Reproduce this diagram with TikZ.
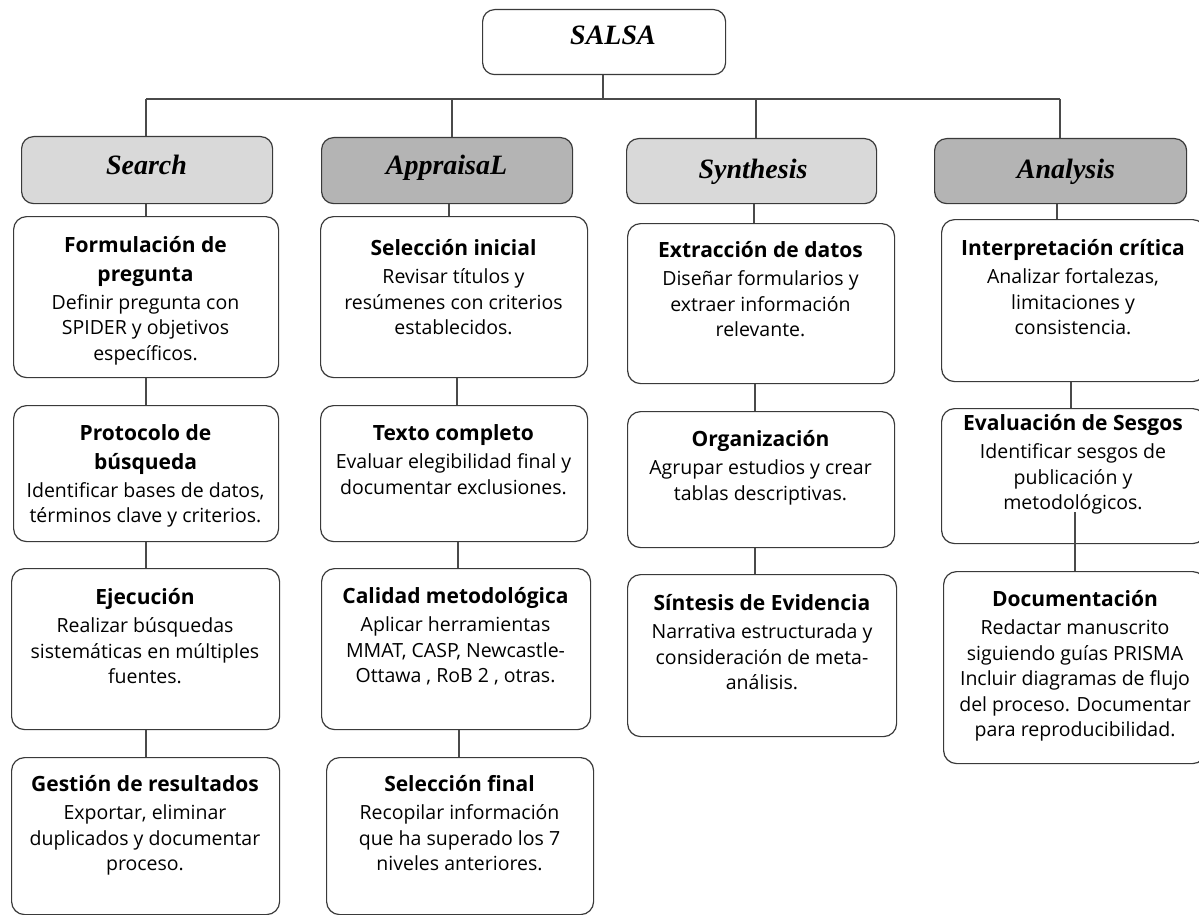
\documentclass[tikz,border=0pt]{standalone}
\usepackage{fontspec}
\setmainfont{Open Sans}
\newfontfamily\headfont{Liberation Serif}
\definecolor{linegray}{HTML}{4A4A4A}
\definecolor{bordergray}{HTML}{3A3A3A}
\definecolor{catlight}{HTML}{D9D9D9}
\definecolor{catdark}{HTML}{B4B4B4}
\newcommand\steptxt[2]{\begin{minipage}[t]{300pt}\centering{\fontsize{21}{28.5}\selectfont\bfseries #1\par}\vspace{2.5pt}{\fontsize{19.5}{25.5}\selectfont #2\par}\end{minipage}}
\tikzset{
  conn/.style={draw=linegray, line width=1.2pt},
  catbox/.style={draw=bordergray, line width=1.2pt, rounded corners=12pt, anchor=north west, inner sep=0pt},
  stepbox/.style={draw=bordergray, line width=1.2pt, rounded corners=13pt, fill=white, anchor=north west, inner sep=0pt},
  cattext/.style={font=\headfont\bfseries\itshape\fontsize{28}{30}\selectfont, anchor=base, inner sep=0pt},
  steptext/.style={anchor=base, inner sep=0pt},
}
\begin{document}
\begin{tikzpicture}[x=1pt,y=-1pt]
\useasboundingbox (0,0) rectangle (1199,915);
\fill[white] (0,0) rectangle (1199,915);
\clip (0,0) rectangle (1199,915);

% top box
\node[catbox, fill=white, minimum width=243pt, minimum height=65pt] (salsa) at (482,9) {};
\node[cattext] (salsat) at (613,45) {SALSA};

% category boxes
\node[catbox, fill=catlight, minimum width=251pt, minimum height=67pt] (search) at (21,136) {};
\node[catbox, fill=catdark, minimum width=251pt, minimum height=66pt] (appr) at (321,137) {};
\node[catbox, fill=catlight, minimum width=250pt, minimum height=65pt] (synth) at (626,138) {};
\node[catbox, fill=catdark, minimum width=252pt, minimum height=65pt] (anal) at (934,138) {};
\node[cattext] (searcht) at (146.5,175) {Search};
\node[cattext] (apprt) at (446.5,175) {AppraisaL};
\node[cattext] (syntht) at (753,178) {Synthesis};
\node[cattext] (analt) at (1066,178) {Analysis};

% column 1
\node[stepbox, minimum width=265pt, minimum height=161pt] (f1) at (13,216) {};
\node[stepbox, minimum width=265pt, minimum height=136pt] (f2) at (13,405) {};
\node[stepbox, minimum width=268pt, minimum height=161pt] (f3) at (11,568) {};
\node[stepbox, minimum width=268pt, minimum height=157pt] (f4) at (11,757) {};
\node[steptext] (f1t) at (145.5,252.5) {\steptxt{Formulación de\\pregunta}{Definir pregunta con\\SPIDER y objetivos\\específicos.}};
\node[steptext] (f2t) at (145.5,440.5) {\steptxt{Protocolo de\\búsqueda}{Identificar bases de datos,\\términos clave y criterios.}};
\node[steptext] (f3t) at (145,604.5) {\steptxt{Ejecución}{Realizar búsquedas\\sistemáticas en múltiples\\fuentes.}};
\node[steptext] (f4t) at (145,791.5) {\steptxt{Gestión de resultados}{Exportar, eliminar\\duplicados y documentar\\proceso.}};

% column 2
\node[stepbox, minimum width=267pt, minimum height=161pt] (a1) at (320,216) {};
\node[stepbox, minimum width=267pt, minimum height=136pt] (a2) at (320,405) {};
\node[stepbox, minimum width=269pt, minimum height=161pt] (a3) at (321,568) {};
\node[stepbox, minimum width=267pt, minimum height=157pt] (a4) at (326,757) {};
\node[steptext] (a1t) at (453.5,255.5) {\steptxt{Selección inicial}{Revisar títulos y\\resúmenes con criterios\\establecidos.}};
\node[steptext] (a2t) at (453.5,440.5) {\steptxt{Texto completo}{Evaluar elegibilidad final y\\documentar exclusiones.}};
\node[steptext] (a3t) at (455.5,603.5) {\steptxt{Calidad metodológica}{Aplicar herramientas\\MMAT, CASP, Newcastle-\\Ottawa , RoB 2 , otras.}};
\node[steptext] (a4t) at (459.5,791.5) {\steptxt{Selección final}{Recopilar información\\que ha superado los 7\\niveles anteriores.}};

% column 3
\node[stepbox, minimum width=267pt, minimum height=160pt] (s1) at (627,223) {};
\node[stepbox, minimum width=267pt, minimum height=136pt] (s2) at (627,411) {};
\node[stepbox, minimum width=269pt, minimum height=162pt] (s3) at (627,574) {};
\node[steptext] (s1t) at (760.5,257.5) {\steptxt{Extracción de datos}{Diseñar formularios y\\extraer información\\relevante.}};
\node[steptext] (s2t) at (760.5,446.5) {\steptxt{Organización}{Agrupar estudios y crear\\tablas descriptivas.}};
\node[steptext] (s3t) at (762,610.5) {\steptxt{Síntesis de Evidencia}{Narrativa estructurada y\\consideración de meta-\\análisis.}};

% column 4
\node[stepbox, minimum width=264pt, minimum height=162pt] (n1) at (941,219) {};
\node[stepbox, minimum width=264pt, minimum height=135pt] (n2) at (941,408) {};
\node[stepbox, minimum width=262pt, minimum height=192pt] (n3) at (943,571) {};
\node[steptext] (n1t) at (1073,255.5) {\steptxt{Interpretación crítica}{Analizar fortalezas,\\limitaciones y\\consistencia.}};
\node[steptext] (n2t) at (1073,430.5) {\steptxt{Evaluación de Sesgos}{Identificar sesgos de\\publicación y\\metodológicos.}};
\node[steptext] (n3t) at (1075,606.5) {\steptxt{Documentación}{Redactar manuscrito\\siguiendo guías PRISMA\\Incluir diagramas de flujo\\del proceso. Documentar\\para reproducibilidad.}};

% connector coordinates
\coordinate (hmid) at (603,99);
\coordinate (hl) at (146,99);
\coordinate (hr) at (1060,99);
\coordinate (xa) at (452,99);
\coordinate (xs) at (756,99);
\coordinate (ca0) at (449,0);
\coordinate (ca1) at (457,0);
\coordinate (ca2) at (458,0);
\coordinate (ca3) at (459,0);
\coordinate (cs0) at (754,0);
\coordinate (cs1) at (755,0);
\coordinate (cn0) at (1057,0);
\coordinate (cn1) at (1071,0);
\coordinate (n2in) at (1075,512);

% connectors
\draw[conn] (salsa.south -| hmid) -- (hmid);
\draw[conn] (hl) -- (hr);
\draw[conn] (hl) -- (search.north -| hl);
\draw[conn] (xa) -- (appr.north -| xa);
\draw[conn] (xs) -- (synth.north -| xs);
\draw[conn] (hr) -- (anal.north -| hr);

\draw[conn] (search.south -| hl) -- (f1.north -| hl);
\draw[conn] (f1.south -| hl) -- (f2.north -| hl);
\draw[conn] (f2.south -| hl) -- (f3.north -| hl);
\draw[conn] (f3.south -| hl) -- (f4.north -| hl);

\draw[conn] (appr.south -| ca0) -- (a1.north -| ca0);
\draw[conn] (a1.south -| ca1) -- (a2.north -| ca1);
\draw[conn] (a2.south -| ca2) -- (a3.north -| ca2);
\draw[conn] (a3.south -| ca3) -- (a4.north -| ca3);

\draw[conn] (synth.south -| cs0) -- (s1.north -| cs0);
\draw[conn] (s1.south -| cs1) -- (s2.north -| cs1);
\draw[conn] (s2.south -| cs1) -- (s3.north -| cs1);

\draw[conn] (anal.south -| cn0) -- (n1.north -| cn0);
\draw[conn] (n1.south -| cn1) -- (n2.north -| cn1);
\draw[conn] (n2in) -- (n3.north -| n2in);
\end{tikzpicture}
\end{document}
